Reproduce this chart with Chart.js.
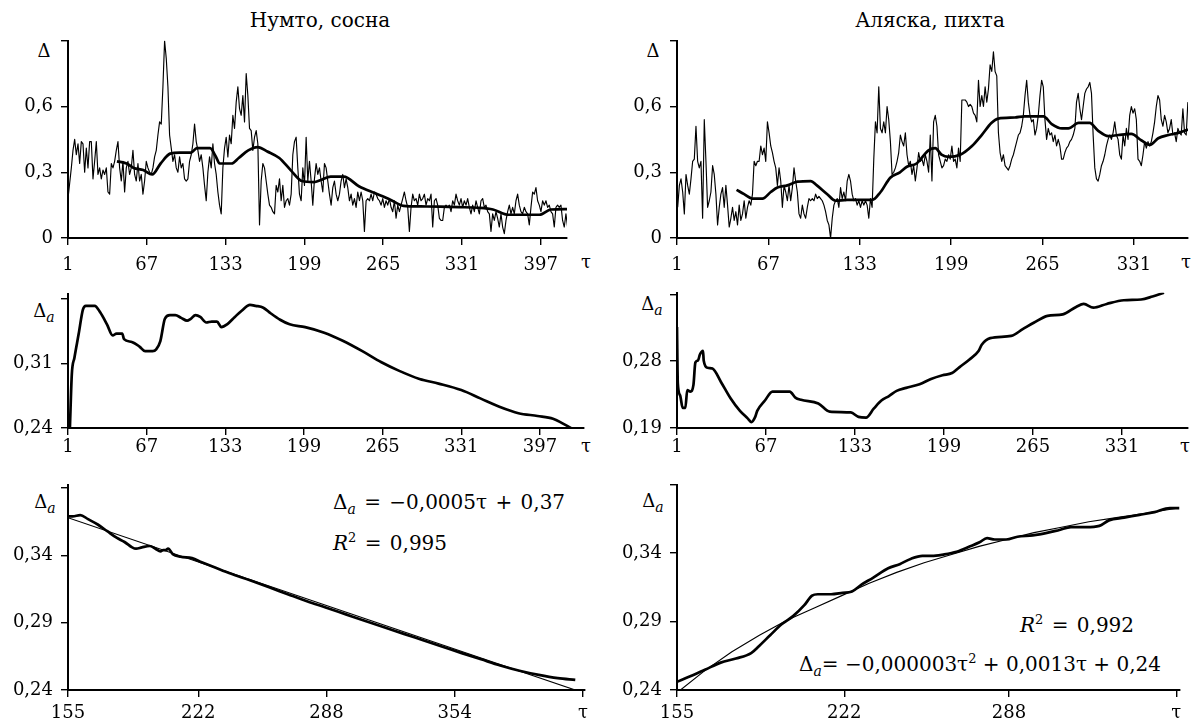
<!DOCTYPE html>
<html>
<head>
<meta charset="utf-8">
<script src="https://cdn.jsdelivr.net/npm/chart.js@4.4.0/dist/chart.umd.min.js"></script>
<style>
  body { margin: 0; background: #fff; width: 1196px; height: 724px; position: relative; overflow: hidden; }
  canvas { position: absolute; }
  .lbl { position: absolute; font-family: 'DejaVu Serif', serif; font-size: 18px; line-height: 18px; color: #000;
         transform: translate(-50%, -50%); white-space: nowrap; }
  .title { font-size: 20px; }
  .note { position: absolute; font-family: 'DejaVu Serif', serif; font-size: 20px; line-height: 20px; color: #000;
          transform: translateY(-50%); white-space: nowrap; word-spacing: 2px; }
  .sub { font-style: italic; font-size: 14px; position: relative; top: 5px; }
  .sup { font-size: 13px; position: relative; top: -8px; }
</style>
</head>
<body>

<div class="lbl title" style="left:320px; top:20px">Нумто, сосна</div>
<div class="lbl title" style="left:930px; top:20px">Аляска, пихта</div>

<div class="lbl" style="left:44px; top:51px">Δ</div>
<div class="lbl" style="left:653px; top:51px">Δ</div>
<div class="lbl" style="left:586px; top:262px">τ</div>
<div class="lbl" style="left:1186px; top:262px">τ</div>

<div class="lbl" style="left:44px; top:311px">Δ<span class="sub">a</span></div>
<div class="lbl" style="left:652px; top:304px">Δ<span class="sub">a</span></div>
<div class="lbl" style="left:586px; top:446px">τ</div>
<div class="lbl" style="left:1185px; top:446px">τ</div>

<div class="lbl" style="left:45px; top:502px">Δ<span class="sub">a</span></div>
<div class="lbl" style="left:653px; top:501px">Δ<span class="sub">a</span></div>

<div class="note" style="left:333px; top:503px">Δ<span class="sub">a</span> = −0,0005τ + 0,37</div>
<div class="note" style="left:333px; top:544px"><i>R</i><span class="sup">2</span> = 0,995</div>
<div class="note" style="left:1020px; top:626px"><i>R</i><span class="sup">2</span> = 0,992</div>
<div class="note" style="left:799px; top:665px; word-spacing:0">Δ<span class="sub">a</span>= −0,000003τ<span class="sup">2</span> + 0,0013τ + 0,24</div>

<canvas id="numtoRawChart"></canvas>
<canvas id="alaskaRawChart"></canvas>
<canvas id="numtoCumChart"></canvas>
<canvas id="alaskaCumChart"></canvas>
<canvas id="numtoFitChart"></canvas>
<canvas id="alaskaFitChart"></canvas>

<script>
// ---------- data ----------

// Нумто, сосна: yearly Δ, one reading every ~1.4 years from τ = 1
var numtoRawStart = 1;
var numtoRawStep = 1.395;
var numtoRaw = [
  0.18, 0.25, 0.32, 0.40, 0.45, 0.38, 0.43, 0.34, 0.44, 0.43,
  0.30, 0.41, 0.32, 0.44, 0.44, 0.27, 0.35, 0.44, 0.29, 0.32,
  0.27, 0.31, 0.29, 0.32, 0.21, 0.20, 0.34, 0.32, 0.35, 0.40,
  0.44, 0.32, 0.26, 0.35, 0.21, 0.32, 0.35, 0.29, 0.32, 0.40,
  0.29, 0.26, 0.34, 0.26, 0.29, 0.20, 0.26, 0.35, 0.32, 0.30,
  0.29, 0.32, 0.37, 0.40, 0.47, 0.53, 0.52, 0.69, 0.90, 0.82,
  0.69, 0.47, 0.41, 0.35, 0.38, 0.32, 0.30, 0.37, 0.32, 0.34,
  0.27, 0.26, 0.27, 0.35, 0.38, 0.43, 0.52, 0.44, 0.40, 0.35,
  0.38, 0.32, 0.24, 0.17, 0.30, 0.37, 0.32, 0.43, 0.34, 0.29,
  0.21, 0.15, 0.11, 0.32, 0.41, 0.46, 0.37, 0.47, 0.43, 0.56,
  0.50, 0.62, 0.69, 0.59, 0.56, 0.65, 0.53, 0.75, 0.65, 0.50,
  0.49, 0.40, 0.46, 0.49, 0.43, 0.06, 0.26, 0.34, 0.32, 0.26,
  0.20, 0.15, 0.14, 0.12, 0.11, 0.24, 0.21, 0.27, 0.17, 0.24,
  0.14, 0.17, 0.18, 0.15, 0.20, 0.38, 0.44, 0.46, 0.32, 0.20,
  0.17, 0.32, 0.24, 0.46, 0.26, 0.35, 0.26, 0.15, 0.27, 0.34,
  0.29,
  0.32, 0.26, 0.21, 0.34, 0.32, 0.26, 0.20, 0.15, 0.23, 0.26,
  0.20, 0.17, 0.20, 0.26, 0.29, 0.23, 0.27, 0.23, 0.17, 0.20,
  0.15, 0.18, 0.14, 0.21, 0.17, 0.21, 0.17, 0.03, 0.17, 0.18,
  0.17, 0.20, 0.17, 0.21, 0.20, 0.18, 0.17, 0.15, 0.18, 0.14,
  0.17, 0.15, 0.18, 0.14, 0.12, 0.17, 0.09, 0.15, 0.12, 0.15,
  0.18, 0.21, 0.17, 0.14, 0.03, 0.14, 0.20, 0.17, 0.18, 0.15,
  0.20, 0.17, 0.18, 0.20, 0.15, 0.18, 0.17, 0.20, 0.05, 0.17,
  0.18, 0.15, 0.09, 0.08, 0.08, 0.14, 0.15, 0.14, 0.15, 0.12,
  0.17, 0.15, 0.20, 0.17, 0.15, 0.18, 0.14, 0.17, 0.15, 0.18,
  0.14, 0.11, 0.15, 0.12, 0.17, 0.14, 0.11, 0.17, 0.18, 0.14,
  0.15, 0.12, 0.11, 0.03, 0.11, 0.08, 0.12, 0.09, 0.05, 0.11,
  0.05, 0.02, 0.08, 0.12, 0.15, 0.11, 0.14, 0.11, 0.17, 0.20,
  0.15, 0.12, 0.11, 0.14, 0.12, 0.11, 0.06, 0.14, 0.21, 0.20,
  0.23, 0.17, 0.15, 0.12, 0.17, 0.15, 0.17, 0.14, 0.15, 0.12,
  0.11, 0.05, 0.14, 0.15, 0.14, 0.15, 0.08, 0.05, 0.11, 0.05
];
// smoothed Δ (thick line)
var numtoSmoothT = [42, 50, 56, 64, 71.5, 78.6, 86.6, 94.6, 104, 109, 120, 125, 128, 138, 144, 152, 160, 168, 178,
  187.5, 197, 207, 213, 221, 232, 245, 258, 271, 282, 296.5, 312.5, 328.6, 344.6, 357, 370, 386, 396, 405.5, 419];
var numtoSmoothV = [0.35, 0.34, 0.32, 0.31, 0.29, 0.34, 0.385, 0.39, 0.39, 0.41, 0.41, 0.37, 0.34, 0.34, 0.365, 0.40,
  0.415, 0.395, 0.365, 0.31, 0.26, 0.255, 0.265, 0.28, 0.28, 0.235, 0.205, 0.175, 0.147, 0.144, 0.143, 0.141,
  0.138, 0.13, 0.106, 0.106, 0.106, 0.13, 0.132];

// Аляска, пихта: yearly Δ, one reading every 1.2 years from τ = 1.5
var alaskaRawStart = 1.5;
var alaskaRawStep = 1.2;
var alaskaRaw = [
  0.14, 0.24, 0.27, 0.21, 0.11, 0.29, 0.24, 0.20, 0.27, 0.35,
  0.36, 0.51, 0.35, 0.32, 0.35, 0.09, 0.54, 0.35, 0.14, 0.17,
  0.21, 0.33, 0.29, 0.20, 0.06, 0.14, 0.20, 0.23, 0.14, 0.24,
  0.15, 0.05, 0.09, 0.14, 0.08, 0.12, 0.06, 0.15, 0.08, 0.11,
  0.17, 0.09, 0.14, 0.17, 0.15, 0.20, 0.35, 0.33, 0.35, 0.35,
  0.42, 0.38, 0.41, 0.35, 0.53, 0.48, 0.42, 0.39, 0.35, 0.32,
  0.24, 0.32, 0.26, 0.14, 0.24, 0.21, 0.17, 0.24, 0.17, 0.23,
  0.32, 0.26, 0.21, 0.11, 0.09, 0.15, 0.11, 0.09, 0.14, 0.18,
  0.17, 0.18, 0.17, 0.20, 0.18, 0.19, 0.18, 0.17, 0.15, 0.12,
  0.08, 0.06, 0.00, 0.09, 0.15, 0.17, 0.18, 0.14, 0.23, 0.18,
  0.21, 0.17, 0.26, 0.29, 0.26, 0.20, 0.17, 0.18, 0.15, 0.17,
  0.14, 0.17, 0.15, 0.17, 0.15, 0.09, 0.18, 0.14, 0.36, 0.53,
  0.48, 0.69, 0.50, 0.48, 0.53, 0.48, 0.60, 0.54, 0.44, 0.29,
  0.30, 0.32, 0.35, 0.39, 0.47, 0.44, 0.42, 0.48, 0.38, 0.33,
  0.35, 0.29, 0.33, 0.26, 0.32, 0.39, 0.35, 0.36, 0.33, 0.38,
  0.35, 0.30, 0.47, 0.26,
  0.53, 0.56, 0.51, 0.38, 0.35, 0.32, 0.33, 0.36, 0.35, 0.38,
  0.36, 0.42, 0.35, 0.36, 0.32, 0.41, 0.35, 0.63, 0.63, 0.63,
  0.62, 0.60, 0.61, 0.60, 0.57, 0.56, 0.53, 0.72, 0.60, 0.65,
  0.60, 0.69, 0.62, 0.68, 0.79, 0.76, 0.85, 0.76, 0.74, 0.48,
  0.39, 0.35, 0.38, 0.33, 0.32, 0.31, 0.33, 0.36, 0.38, 0.41,
  0.44, 0.47, 0.48, 0.51, 0.56, 0.65, 0.72, 0.62, 0.56, 0.53,
  0.54, 0.47, 0.50, 0.56, 0.65, 0.72, 0.69, 0.54, 0.45, 0.50,
  0.47, 0.48, 0.44, 0.47, 0.42, 0.45, 0.42, 0.36, 0.36, 0.39,
  0.41, 0.42, 0.44, 0.45, 0.47, 0.50, 0.62, 0.66, 0.59, 0.54,
  0.60, 0.66, 0.68, 0.69, 0.71, 0.66, 0.47, 0.32, 0.27, 0.26,
  0.29, 0.33, 0.35, 0.38, 0.42, 0.45, 0.47, 0.45, 0.48, 0.53,
  0.47, 0.45, 0.38, 0.36, 0.47, 0.42, 0.50, 0.45, 0.56, 0.60,
  0.57, 0.59, 0.54, 0.36, 0.35, 0.33, 0.38, 0.44, 0.41, 0.44,
  0.42, 0.44, 0.48, 0.53, 0.60, 0.65, 0.63, 0.54, 0.51, 0.56,
  0.53, 0.48, 0.50, 0.54, 0.47, 0.48, 0.44, 0.50, 0.48, 0.47,
  0.59, 0.48, 0.47, 0.62
];
var alaskaSmoothT = [44, 49.5, 55.5, 62.7, 68.7, 73.5, 80.7, 88, 97.5, 102, 109.5, 115.5, 124, 131, 142, 148, 155, 162,
  167, 174, 182.6, 187.5, 192, 197, 205.5, 214, 221, 228, 233, 245, 252, 265.6, 271.6, 279, 283.6, 291, 299, 305,
  312.5, 319.7, 329, 336.5, 342.5, 348.5, 356, 363, 370];
var alaskaSmoothV = [0.22, 0.20, 0.18, 0.18, 0.21, 0.23, 0.24, 0.257, 0.26, 0.24, 0.20, 0.17, 0.174, 0.174, 0.174,
  0.21, 0.275, 0.30, 0.325, 0.34, 0.40, 0.41, 0.38, 0.37, 0.38, 0.42, 0.47, 0.525, 0.545, 0.55, 0.555, 0.555, 0.52,
  0.50, 0.50, 0.525, 0.525, 0.49, 0.465, 0.47, 0.475, 0.445, 0.425, 0.455, 0.47, 0.48, 0.495];

// accumulated mean Δa
var numtoCumT = [2.6, 4.2, 6.4, 10, 13.5, 16, 23.4, 28, 33.7, 38.5, 41.7, 46.5, 48, 54.5, 61, 65.7, 72, 75, 78.5,
  82.3, 86.5, 91, 96, 100.9, 104, 108, 112, 117, 121.7, 126, 129.7, 134.5, 141, 147, 153.7, 158.5, 164.9, 171, 179,
  187, 200, 216, 232, 248, 264, 278.5, 296, 312, 331, 347, 363, 379, 395, 408, 416, 423];
var numtoCumV = [0.24, 0.298, 0.316, 0.342, 0.368, 0.372, 0.372, 0.365, 0.352, 0.34, 0.342, 0.342, 0.336, 0.333,
  0.328, 0.323, 0.323, 0.325, 0.334, 0.358, 0.362, 0.362, 0.359, 0.356, 0.358, 0.362, 0.36, 0.354, 0.355, 0.355,
  0.349, 0.352, 0.36, 0.367, 0.373, 0.372, 0.37, 0.364, 0.357, 0.352, 0.349, 0.343, 0.334, 0.323, 0.311, 0.302,
  0.293, 0.288, 0.281, 0.272, 0.263, 0.256, 0.253, 0.25, 0.245, 0.24];
var alaskaCumT = [1, 1.6, 3.3, 5.2, 7.2, 8.6, 10.9, 13.2, 14.6, 16.6, 18, 20.3, 20.8, 23.7, 27.3, 33.6, 40.7, 47.7,
  53.4, 56.2, 59, 60.5, 66.2, 71.8, 84.6, 88.8, 93, 105.8, 114.3, 129.9, 135.6, 141.2, 146.9, 152.6, 158.2, 163.9,
  171, 180.9, 189.4, 197.9, 205, 210.6, 217.7, 224.8, 227, 233.3, 248.9, 257.4, 265.9, 275.8, 287.1, 297, 302.7,
  309.8, 319.7, 332.4, 345.2, 353.7, 362.2];
var alaskaCumV = [0.326, 0.25, 0.234, 0.217, 0.217, 0.241, 0.239, 0.248, 0.278, 0.281, 0.289, 0.294, 0.281, 0.271,
  0.27, 0.252, 0.23, 0.213, 0.203, 0.198, 0.205, 0.213, 0.227, 0.239, 0.239, 0.231, 0.228, 0.223, 0.212, 0.211,
  0.205, 0.204, 0.216, 0.227, 0.233, 0.24, 0.244, 0.249, 0.256, 0.261, 0.264, 0.272, 0.282, 0.294, 0.302, 0.311,
  0.314, 0.323, 0.332, 0.341, 0.343, 0.353, 0.357, 0.352, 0.357, 0.362, 0.363, 0.367, 0.372];

// Δa after τ = 155 with fitted trend
var numtoFitDataT = [155, 157.4, 161.3, 165.3, 170.3, 175.2, 180.2, 184.1, 188, 190, 193, 197, 200, 202.6, 204,
  205.3, 206.5, 208.9, 212.9, 218.8, 223.8, 230.7, 238.6, 248.6, 258.5, 268.4, 278.3, 287.2, 298, 308, 318, 327.8,
  337.7, 347.7, 357.6, 367.5, 377.4, 387.3, 397.2, 407, 416];
var numtoFitDataV = [0.369, 0.369, 0.37, 0.367, 0.363, 0.358, 0.353, 0.35, 0.346, 0.345, 0.346, 0.347, 0.345,
  0.343, 0.344, 0.344, 0.345, 0.341, 0.339, 0.338, 0.335, 0.331, 0.3265, 0.3215, 0.3163, 0.311, 0.3058, 0.3015,
  0.2962, 0.2913, 0.2865, 0.2817, 0.277, 0.2722, 0.2674, 0.2628, 0.2582, 0.2543, 0.2512, 0.2488, 0.2475];
var numtoTrendT = [155, 416];
var numtoTrendV = [0.368, 0.24];

var alaskaFitDataT = [155, 160.3, 166.4, 172.5, 178.6, 184.7, 187.8, 192.3, 196.9, 201.5, 206, 209.1, 211.4, 216.7,
  221.3, 225.1, 228.9, 233.5, 239.6, 244.2, 248.8, 253.3, 257.1, 261.7, 267, 272.4, 276.2, 279.2, 282.3, 286.9,
  291.4, 297.5, 303.6, 308.2, 312.8, 318.9, 324.2, 328, 334.1, 340.2, 346.3, 352.4, 356.2];
var alaskaFitDataV = [0.246, 0.25, 0.255, 0.26, 0.263, 0.267, 0.272, 0.28, 0.288, 0.294, 0.302, 0.309, 0.31, 0.31,
  0.311, 0.312, 0.317, 0.322, 0.329, 0.332, 0.336, 0.338, 0.338, 0.339, 0.341, 0.345, 0.348, 0.351, 0.35, 0.35,
  0.352, 0.353, 0.355, 0.357, 0.359, 0.359, 0.36, 0.364, 0.366, 0.368, 0.37, 0.373, 0.373];
var alaskaTrendT = [155, 166, 177, 188, 199, 210, 221, 232, 243, 254, 265, 276, 287, 298, 309, 320, 331, 342, 356];
var alaskaTrendV = [0.238, 0.254, 0.268, 0.28, 0.291, 0.3, 0.309, 0.318, 0.326, 0.333, 0.339, 0.345, 0.35, 0.355,
  0.359, 0.363, 0.366, 0.369, 0.373];

// tick values and labels
var tauTicksNumto = [1, 67, 133, 199, 265, 331, 397];
var tauTicksAlaska = [1, 67, 133, 199, 265, 331];
var tauTicksNumtoFit = [155, 222, 288, 354, 420];
var tauTicksAlaskaFit = [155, 222, 288, 355];
var rawTicks = [0, 0.3, 0.6, 0.9];
var rawTickLabels = ['0', '0,3', '0,6', ''];
var numtoCumTicks = [0.24, 0.31, 0.38];
var numtoCumLabels = ['0,24', '0,31', ''];
var alaskaCumTicks = [0.19, 0.28, 0.37];
var alaskaCumLabels = ['0,19', '0,28', ''];
var fitTicks = [0.24, 0.29, 0.34, 0.39];
var fitTickLabels = ['0,24', '0,29', '0,34', ''];

// ---------- drawing ----------
var PAD_L = 70, PAD_T = 12, PAD_R = 40, PAD_B = 40;
var tickFont = { family: 'DejaVu Serif', size: 18 };

function pairs(xs, ys) {
  return xs.map(function (x, i) { return { x: x, y: ys[i] }; });
}
function sampled(start, step, ys) {
  return ys.map(function (y, i) { return { x: start + i * step, y: y }; });
}

function thin(points) {
  return { data: points, borderColor: '#000', borderWidth: 1.15, pointRadius: 0, tension: 0,
           borderJoinStyle: 'round', fill: false };
}
function thick(points) {
  return { data: points, borderColor: '#000', borderWidth: 2.7, pointRadius: 0,
           cubicInterpolationMode: 'monotone', borderJoinStyle: 'round', fill: false };
}

function axis(isX, min, max, tickVals, labels, pad) {
  return {
    type: 'linear',
    min: min,
    max: max,
    afterFit: function (s) { if (isX) s.height = PAD_B; else s.width = PAD_L; },
    afterBuildTicks: function (s) { s.ticks = tickVals.map(function (v) { return { value: v }; }); },
    ticks: {
      color: '#000', font: tickFont, padding: pad, autoSkip: false, maxRotation: 0,
      callback: function (v, i) { return labels[i]; }
    },
    grid: { drawOnChartArea: false, drawTicks: true, tickLength: 7, color: '#000', lineWidth: 1.4 },
    border: { display: true, color: '#000', width: 2 }
  };
}

function setSize(cv, w, h) {
  cv.width = w;
  cv.height = h;
  cv.style.width = w + 'px';
  cv.style.height = h + 'px';
}

// builds the chart twice: the first pass measures where Chart.js puts the plot
// area, the second sizes the canvas so the plot area lands on the wanted box
function panel(id, box, makeX, makeY, makeSets) {
  var cv = document.getElementById(id);
  function cfg() {
    return {
      type: 'line',
      data: { datasets: makeSets() },
      options: {
        responsive: false,
        animation: false,
        layout: { padding: { left: 0, top: PAD_T, right: PAD_R, bottom: 0 } },
        plugins: { legend: { display: false }, tooltip: { enabled: false } },
        scales: { x: makeX(), y: makeY() }
      }
    };
  }
  var bw = box.r - box.l, bh = box.b - box.t;
  var w = bw + PAD_L + PAD_R, h = bh + PAD_T + PAD_B;
  setSize(cv, w, h);
  var ch = new Chart(cv, cfg());
  var ca = ch.chartArea;
  var w2 = Math.round(w + bw - (ca.right - ca.left));
  var h2 = Math.round(h + bh - (ca.bottom - ca.top));
  ch.destroy();
  setSize(cv, w2, h2);
  ch = new Chart(cv, cfg());
  cv.style.left = Math.round(box.l - ch.chartArea.left) + 'px';
  cv.style.top = Math.round(box.t - ch.chartArea.top) + 'px';
  return ch;
}

var tauLabelsNumto = tauTicksNumto.map(String);
var tauLabelsAlaska = tauTicksAlaska.map(String);

panel('numtoRawChart', { l: 68, t: 41, r: 567, b: 238 },
  function () { return axis(true, 1, 419, tauTicksNumto, tauLabelsNumto, 10); },
  function () { return axis(false, 0, 0.9, rawTicks, rawTickLabels, 8); },
  function () { return [thin(sampled(numtoRawStart, numtoRawStep, numtoRaw)), thick(pairs(numtoSmoothT, numtoSmoothV))]; });

panel('alaskaRawChart', { l: 677, t: 41, r: 1188, b: 238 },
  function () { return axis(true, 1, 370, tauTicksAlaska, tauLabelsAlaska, 10); },
  function () { return axis(false, 0, 0.9, rawTicks, rawTickLabels, 8); },
  function () { return [thin(sampled(alaskaRawStart, alaskaRawStep, alaskaRaw)), thick(pairs(alaskaSmoothT, alaskaSmoothV))]; });

panel('numtoCumChart', { l: 68, t: 294, r: 584, b: 428 },
  function () { return axis(true, 1, 434, tauTicksNumto, tauLabelsNumto, 2); },
  function () { return axis(false, 0.24, 0.385, numtoCumTicks, numtoCumLabels, 8); },
  function () { return [thick(pairs(numtoCumT, numtoCumV))]; });

panel('alaskaCumChart', { l: 677, t: 293, r: 1188, b: 428 },
  function () { return axis(true, 1, 380, tauTicksAlaska, tauLabelsAlaska, 2); },
  function () { return axis(false, 0.19, 0.372, alaskaCumTicks, alaskaCumLabels, 8); },
  function () { return [thick(pairs(alaskaCumT, alaskaCumV))]; });

panel('numtoFitChart', { l: 68, t: 485, r: 585, b: 690 },
  function () { return axis(true, 155, 421, tauTicksNumtoFit, ['155', '222', '288', '354', 'τ'], 6); },
  function () { return axis(false, 0.24, 0.3925, fitTicks, fitTickLabels, 8); },
  function () { return [thin(pairs(numtoTrendT, numtoTrendV)), thick(pairs(numtoFitDataT, numtoFitDataV))]; });

panel('alaskaFitChart', { l: 677, t: 485, r: 1180, b: 690 },
  function () { return axis(true, 155, 356.5, tauTicksAlaskaFit, ['155', '222', '288', 'τ'], 6); },
  function () { return axis(false, 0.24, 0.39, fitTicks, fitTickLabels, 8); },
  function () { return [thin(pairs(alaskaTrendT, alaskaTrendV)), thick(pairs(alaskaFitDataT, alaskaFitDataV))]; });
</script>
</body>
</html>
